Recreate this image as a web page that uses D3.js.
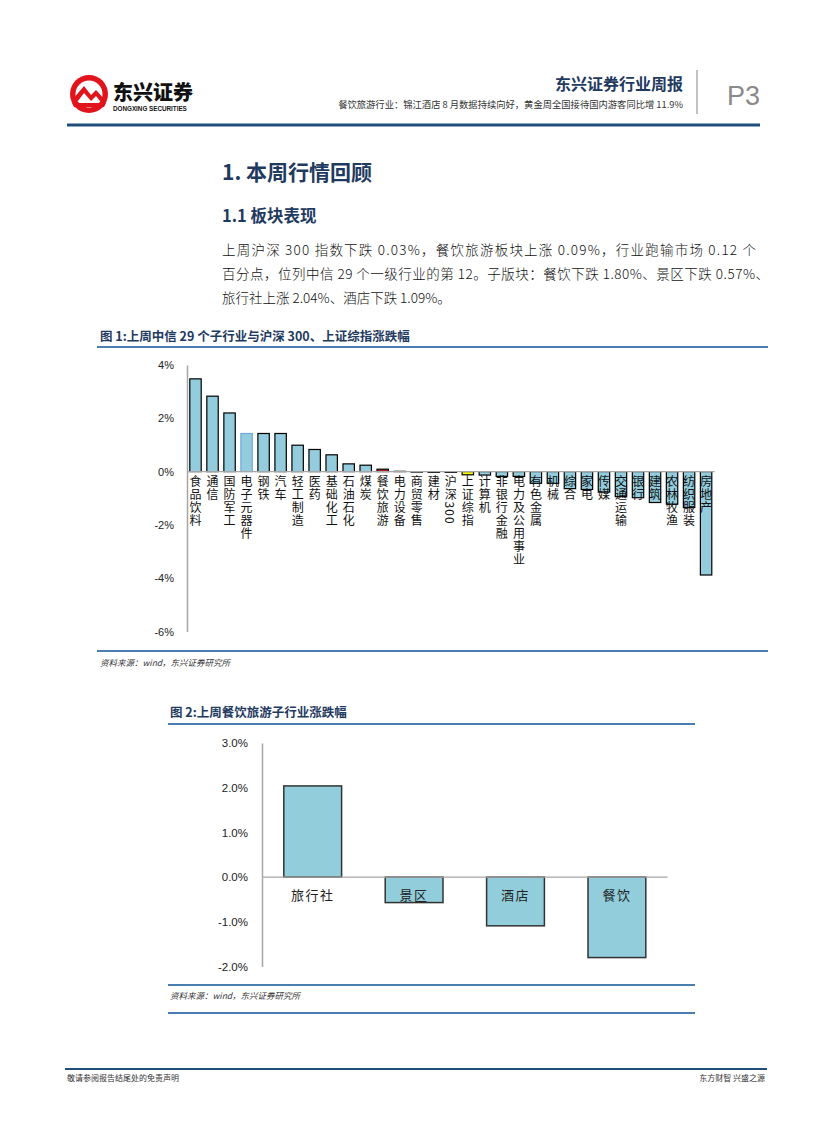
<!DOCTYPE html>
<html><head><meta charset="utf-8">
<script src="https://cdn.jsdelivr.net/npm/d3@7/dist/d3.min.js"></script>
<style>
html,body{margin:0;padding:0;background:#fff;}
svg{display:block;}
</style></head>
<body>
<svg id="page" width="827" height="1122"></svg>
<script>
// ---------- data ----------
const cats1 = ["食品饮料","通信","国防军工","电子元器件","钢铁","汽车","轻工制造","医药","基础化工","石油石化","煤炭","餐饮旅游","电力设备","商贸零售","建材","沪深300","上证综指","计算机","非银行金融","电力及公用事业","有色金属","机械","综合","家电","传媒","交通运输","银行","建筑","农林牧渔","纺织服装","房地产"];
const vals1 = [3.48,2.83,2.20,1.43,1.43,1.43,0.99,0.83,0.63,0.29,0.24,0.09,0.01,-0.02,-0.03,-0.03,-0.12,-0.13,-0.18,-0.18,-0.44,-0.44,-0.64,-0.67,-0.77,-0.94,-0.98,-1.16,-1.22,-1.35,-3.88];
const ticks1 = [4,2,0,-2,-4,-6];
const cats2 = ["旅行社","景区","酒店","餐饮"];
const vals2 = [2.04,-0.57,-1.09,-1.80];
const ticks2 = [3,2,1,0,-1,-2];
const paraLines = [
 "上周沪深 300 指数下跌 0.03%，餐饮旅游板块上涨 0.09%，行业跑输市场 0.12 个",
 "百分点，位列中信 29 个一级行业的第 12。子版块：餐饮下跌 1.80%、景区下跌 0.57%、",
 "旅行社上涨 2.04%、酒店下跌 1.09%。"
];

const svg = d3.select("#page");
const CJK = '"Noto Sans CJK SC","Noto Sans",sans-serif';
const LAT = '"Liberation Sans","Noto Sans",Arial,sans-serif';
const navy = "#1F3A5F";
const rule = "#4A7DB0";

// ---------- header ----------
const logo = svg.append("g");
logo.append("circle").attr("cx",89).attr("cy",94).attr("r",19).attr("fill","#E1141B");
logo.append("circle").attr("cx",89).attr("cy",94).attr("r",13.5).attr("fill","#fff");
logo.append("path").attr("d","M73,99 L84,86 L91,95 L96,90 L106,101 L100,101 L96,96 L91,101 L84,93 L78,101 Z").attr("fill","#E1141B");
logo.append("path").attr("d","M72,103 L106,103 L104,107 L74,107 Z").attr("fill","#E1141B");
svg.append("text").attr("x",113).attr("y",100).attr("font-family",CJK).attr("font-weight",900)
  .attr("font-size",20).attr("fill","#111").text("东兴证券");
svg.append("text").attr("x",113).attr("y",111).attr("font-family",LAT).attr("font-weight",700)
  .attr("font-size",6.3).attr("fill","#111").text("DONGXING SECURITIES");

svg.append("text").attr("x",683).attr("y",90).attr("text-anchor","end").attr("font-family",CJK)
  .attr("font-weight",700).attr("font-size",16).attr("fill",navy).text("东兴证券行业周报");
svg.append("text").attr("x",683).attr("y",108).attr("text-anchor","end").attr("font-family",CJK)
  .attr("font-size",9.3).attr("fill","#333").text("餐饮旅游行业：锦江酒店 8 月数据持续向好，黄金周全国接待国内游客同比增 11.9%");
svg.append("line").attr("x1",697).attr("x2",697).attr("y1",70).attr("y2",114).attr("stroke","#999").attr("stroke-width",1.2);
svg.append("text").attr("x",727).attr("y",105).attr("font-family",LAT).attr("font-size",27)
  .attr("fill","#8a8a8a").text("P3");
svg.append("rect").attr("x",67).attr("y",123.5).attr("width",693).attr("height",3).attr("fill","#1F4E79");

// ---------- headings & paragraph ----------
svg.append("text").attr("x",222).attr("y",180).attr("font-family",CJK).attr("font-weight",700)
  .attr("font-size",21).attr("fill",navy).text("1. 本周行情回顾");
svg.append("text").attr("x",222).attr("y",222).attr("font-family",CJK).attr("font-weight",700)
  .attr("font-size",16.5).attr("fill",navy).text("1.1 板块表现");
const paraW = [534, 547, null];
paraLines.forEach((t,i)=>{
  const el = svg.append("text").attr("x",222).attr("y",255+i*24).attr("font-family",CJK)
    .attr("font-size",13.5).attr("font-weight",300).attr("fill","#111").text(t);
  if(paraW[i]) el.attr("textLength",paraW[i]).attr("lengthAdjust","spacing");
});

// ---------- figure 1 ----------
svg.append("text").attr("x",100).attr("y",341).attr("font-family",CJK).attr("font-weight",700)
  .attr("font-size",12.5).attr("fill",navy).text("图 1:上周中信 29 个子行业与沪深 300、上证综指涨跌幅");
svg.append("rect").attr("x",97).attr("y",346).attr("width",671).attr("height",2).attr("fill",rule);
svg.append("rect").attr("x",97).attr("y",650).attr("width",671).attr("height",2).attr("fill",rule);
svg.append("text").attr("x",100).attr("y",666).attr("font-family",CJK).attr("font-style","italic")
  .attr("font-size",8.5).attr("fill","#333").text("资料来源：wind，东兴证券研究所");

const x1 = d3.scaleBand().domain(cats1).range([187,714.6]).paddingInner(0.33).paddingOuter(0.165);
const y1 = d3.scaleLinear().domain([-6,4]).range([631.5,365]);
const g1 = svg.append("g");
const ax1 = g1.append("g").attr("transform","translate(187,0)")
  .call(d3.axisLeft(y1).tickValues(ticks1).tickFormat(d=>d+"%").tickSize(0).tickPadding(13));
ax1.select(".domain").attr("stroke","#A6A6A6").attr("stroke-width",1.5);
ax1.selectAll("text").attr("font-family",LAT).attr("font-size",11).attr("fill","#222");
function fill1(c){ if(c==="上证综指") return "#FFFF00"; if(c==="餐饮旅游") return "#B22222"; return "#93CDDD"; }
function stroke1(c){ if(c==="电子元器件") return "#6FA8DC"; return "#000"; }
g1.selectAll("rect.bar").data(cats1).join("rect").attr("class","bar")
  .attr("x",c=>x1(c)).attr("width",x1.bandwidth())
  .attr("y",(c,i)=>y1(Math.max(0,vals1[i])))
  .attr("height",(c,i)=>Math.abs(y1(vals1[i])-y1(0)))
  .attr("fill",fill1).attr("stroke",stroke1).attr("stroke-width",1.2);
g1.append("line").attr("x1",187).attr("x2",714.6).attr("y1",y1(0)).attr("y2",y1(0))
  .attr("stroke","#A6A6A6").attr("stroke-width",1.2);
g1.selectAll("text.lab").data(cats1).join("text").attr("class","lab")
  .attr("x",c=>x1(c)+x1.bandwidth()/2).attr("y",y1(0)+4)
  .attr("style","writing-mode:vertical-rl")
  .attr("font-family",CJK).attr("font-size",12).attr("letter-spacing",1).attr("fill","#111")
  .text(c=>c);

// ---------- figure 2 ----------
svg.append("text").attr("x",170).attr("y",717).attr("font-family",CJK).attr("font-weight",700)
  .attr("font-size",12.5).attr("fill",navy).text("图 2:上周餐饮旅游子行业涨跌幅");
svg.append("rect").attr("x",168).attr("y",723).attr("width",527).attr("height",2).attr("fill",rule);
svg.append("rect").attr("x",168).attr("y",984).attr("width",527).attr("height",2).attr("fill",rule);
svg.append("rect").attr("x",168).attr("y",1012).attr("width",527).attr("height",2).attr("fill",rule);
svg.append("text").attr("x",170).attr("y",999).attr("font-family",CJK).attr("font-style","italic")
  .attr("font-size",8.5).attr("fill","#333").text("资料来源：wind，东兴证券研究所");

const x2 = d3.scaleBand().domain(cats2).range([262,667.6]).paddingInner(0.43).paddingOuter(0.215);
const y2 = d3.scaleLinear().domain([-2,3]).range([966.5,743]);
const g2 = svg.append("g");
const ax2 = g2.append("g").attr("transform","translate(262,0)")
  .call(d3.axisLeft(y2).tickValues(ticks2).tickFormat(d=>d.toFixed(1)+"%").tickSize(0).tickPadding(14));
ax2.select(".domain").attr("stroke","#A6A6A6").attr("stroke-width",1.5);
ax2.selectAll("text").attr("font-family",LAT).attr("font-size",11.5).attr("fill","#222");
g2.selectAll("rect.bar").data(cats2).join("rect").attr("class","bar")
  .attr("x",c=>x2(c)).attr("width",x2.bandwidth())
  .attr("y",(c,i)=>y2(Math.max(0,vals2[i])))
  .attr("height",(c,i)=>Math.abs(y2(vals2[i])-y2(0)))
  .attr("fill","#92CDDC").attr("stroke","#333").attr("stroke-width",1.5);
g2.append("line").attr("x1",262).attr("x2",667.6).attr("y1",y2(0)).attr("y2",y2(0))
  .attr("stroke","#A6A6A6").attr("stroke-width",1.2);
g2.selectAll("text.lab").data(cats2).join("text").attr("class","lab")
  .attr("x",c=>x2(c)+x2.bandwidth()/2).attr("y",y2(0)+23).attr("text-anchor","middle")
  .attr("font-family",CJK).attr("font-size",13).attr("letter-spacing",1.5).attr("fill","#222")
  .text(c=>c);

// ---------- footer ----------
svg.append("rect").attr("x",65).attr("y",1068).attr("width",702).attr("height",2).attr("fill","#1F4E79");
svg.append("text").attr("x",67).attr("y",1081).attr("font-family",CJK).attr("font-size",8)
  .attr("fill","#333").text("敬请参阅报告结尾处的免责声明");
svg.append("text").attr("x",765).attr("y",1081).attr("text-anchor","end").attr("font-family",CJK)
  .attr("font-size",8).attr("fill","#333").text("东方财智 兴盛之源");
</script>
</body></html>
